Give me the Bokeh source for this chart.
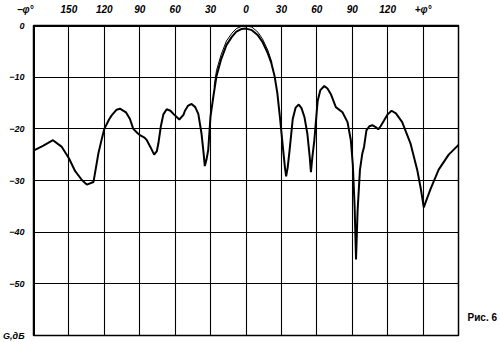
from bokeh.plotting import figure
from bokeh.models import Range1d, FixedTicker, Span, LinearAxis
from bokeh.embed import file_html
from bokeh.resources import INLINE

# Angle (deg) and gain (dB)
phi = [-180, -172, -163.5, -156, -150, -144.7, -139, -134.8, -129.2, -125, -122, -120,
       -116, -113.8, -109.6, -106.8, -101.7, -98.3, -95.5, -92, -89.9, -86, -84, -81,
       -77.8, -75.5, -74.2, -72.2, -70, -67.2, -64, -61.5, -56.5, -53, -51.7, -49,
       -46.1, -43, -40.4, -37.7, -36, -34.9, -33.5, -32, -30.1, -27.5, -25, -21,
       -16.6, -12, -8.2, -4, 0, 5, 10.1, 14, 18.5, 21.5, 24.2, 26.5, 28.9, 31, 33,
       34, 35.3, 36.8, 39.6, 42, 44.7, 47, 49.5, 52, 54, 55, 56.2, 57.9, 60.7, 63,
       66.3, 69, 71.9, 76.1, 81.7, 86, 88.8, 90.5, 92, 93.2, 94.5, 96.5, 98.5, 100,
       102, 104.5, 107, 109.5, 112, 114, 116.9, 120, 123.3, 127, 132.3, 139.3, 145,
       148, 150.6, 152.5, 156.2, 163.2, 171.7, 180]
gain = [-24.2, -23.3, -22.2, -23.5, -25.7, -28.2, -29.9, -30.8, -30.3, -24.7, -21.8, -20.0,
        -18.2, -17.4, -16.3, -16.1, -16.8, -18.1, -20.0, -20.8, -21.2, -21.7, -22.2, -23.5,
        -25.0, -24.3, -22.8, -19.6, -17.2, -16.2, -16.5, -17.1, -18.2, -17.3, -16.5, -15.5,
        -15.2, -15.8, -17.1, -20.9, -24.5, -27.2, -26.0, -24.1, -17.7, -13.5, -9.8, -6.5,
        -3.8, -2.2, -1.2, -0.7, -0.6, -0.9, -1.9, -3.2, -5.4, -7.3, -9.8, -13.0, -18.1, -23.0, -27.5,
        -29.2, -27.5, -24.4, -18.1, -15.9, -15.3, -16.0, -17.7, -21.0, -25.5, -28.4, -25.5,
        -22.2, -14.6, -12.5, -11.7, -12.2, -13.3, -15.8, -16.8, -18.7, -22.2, -27.0, -35.0,
        -45.3, -36.0, -28.0, -24.8, -23.5, -20.3, -19.5, -19.3, -19.6, -20.1, -19.5, -18.4,
        -17.2, -16.5, -17.0, -18.7, -22.8, -27.9, -31.5, -35.2, -34.0, -31.7, -27.9, -25.0, -23.1]

# second (outer) trace of the main lobe
phi2 = [-27, -25, -21, -16.6, -12, -8.2, -4, 0, 5, 10.1, 14, 18.5, 22]
gain2 = [-11.8, -8.7, -5.6, -3.0, -1.5, -0.6, -0.2, -0.1, -0.3, -1.3, -2.6, -4.8, -7.2]

NB = "\u00a0"
x_ticks = [-180, -150, -120, -90, -60, -30, 0, 30, 60, 90, 120, 150]
x_labels = ["−φ°" + NB * 6, "150", "120", "90", "60", "30", "0", "30", "60", "90", "120", "+φ°"]
y_ticks = [0, -10, -20, -30, -40, -50, -60]
y_labels = ["0", "−10", "−20", "−30", "−40", "−50", "G,дБ"]
fig_ticks = [-56.5]
fig_labels = ["Рис. 6"]

FONT = "Liberation Sans"

p = figure(width=500, height=342, output_backend="svg", toolbar_location=None,
           x_range=Range1d(-180, 180), y_range=Range1d(-60, 0),
           x_axis_location="above", min_border_left=31, min_border_right=42,
           min_border_top=20, min_border_bottom=7)
p.background_fill_color = "white"
p.border_fill_color = "white"
p.outline_line_color = "black"
p.outline_line_width = 1.5

right_axis = LinearAxis()
p.add_layout(right_axis, "right")

for ax, ticks, labels, stand, style, size in (
        (p.xaxis[0], x_ticks, x_labels, 5, "bold italic", "10px"),
        (p.yaxis[0], y_ticks, y_labels, 3, "bold italic", "9px"),
        (right_axis, fig_ticks, fig_labels, 3, "bold", "10px")):
    ax.ticker = FixedTicker(ticks=ticks)
    ax.major_label_overrides = {t: l for t, l in zip(ticks, labels)}
    ax.axis_line_color = None
    ax.major_tick_line_color = None
    ax.minor_tick_line_color = None
    ax.major_label_standoff = stand
    ax.major_label_text_font = FONT
    ax.major_label_text_font_size = size
    ax.major_label_text_font_style = style
    ax.major_label_text_color = "black"

p.xgrid.grid_line_color = "black"
p.ygrid.grid_line_color = "black"
p.xgrid.grid_line_width = 1.1
p.ygrid.grid_line_width = 1.1
p.xgrid.ticker = FixedTicker(ticks=x_ticks[1:])

p.add_layout(Span(location=-180, dimension="height", line_color="black", line_width=3))
p.add_layout(Span(location=0, dimension="width", line_color="black", line_width=3))

p.line(phi2, gain2, line_color="black", line_width=1)
p.line(phi, gain, line_color="black", line_width=2)

open("out.html", "w").write(file_html(p, INLINE))
